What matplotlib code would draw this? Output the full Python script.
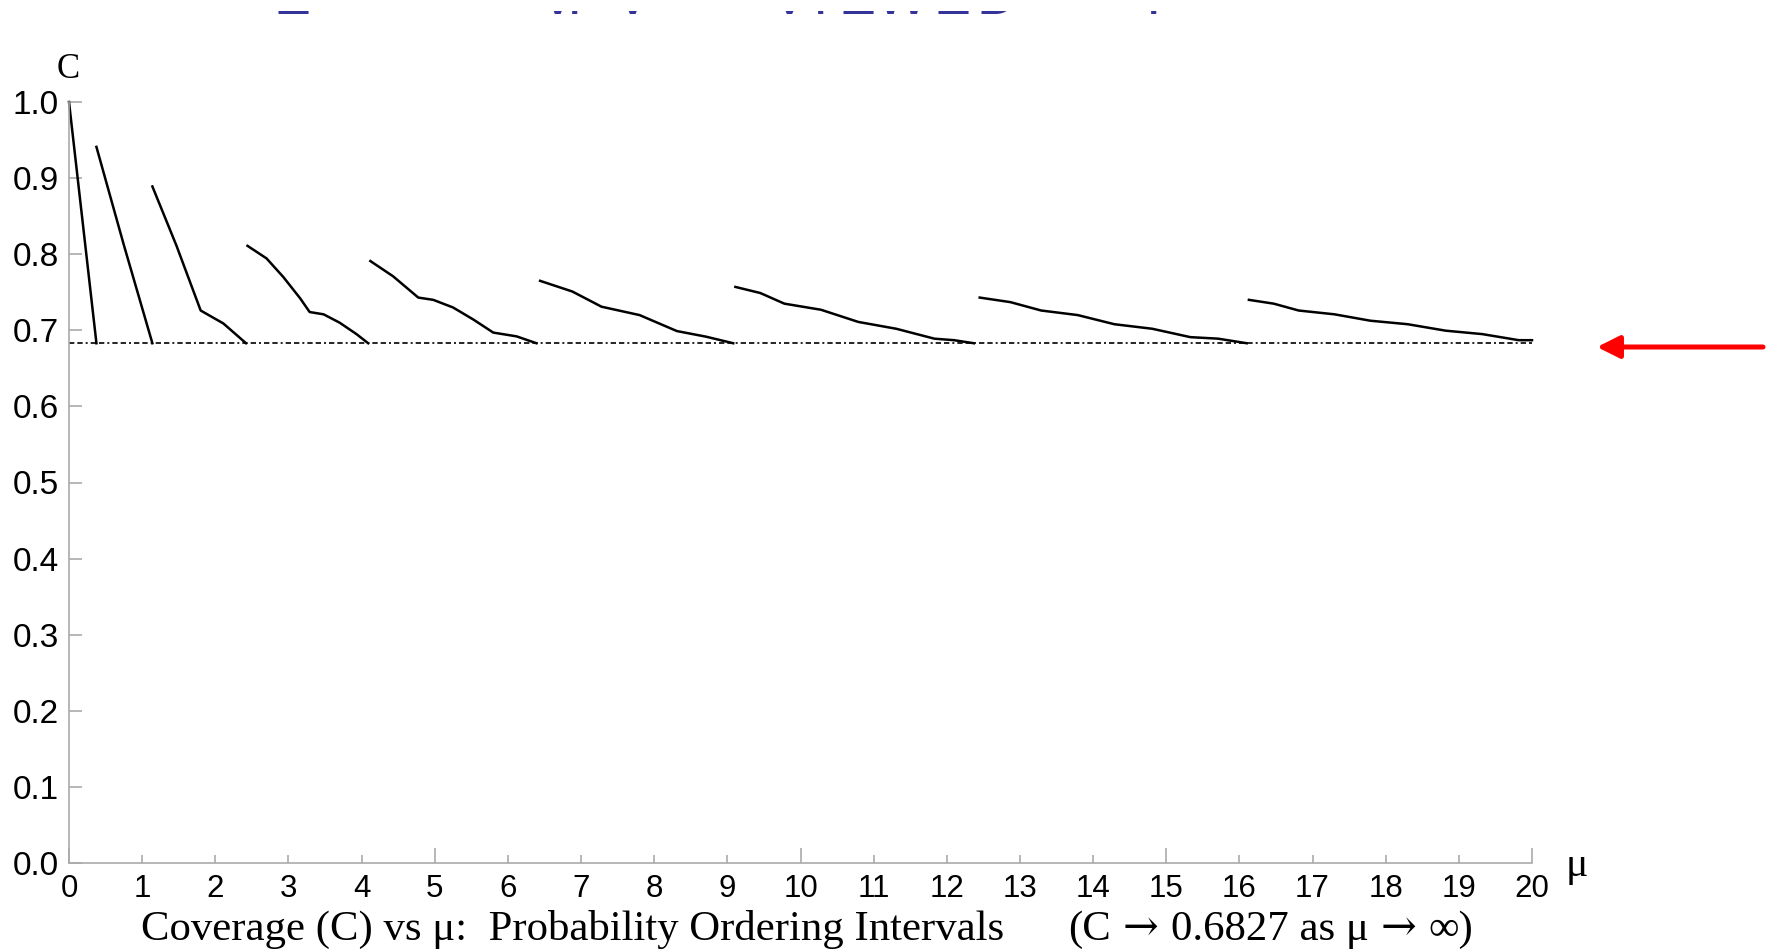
import numpy as np
import matplotlib.pyplot as plt

# coverage, one list per "tooth"
mu_pts = [
    [0.0, 0.375],
    [0.375, 0.75, 1.14],
    [1.14, 1.47, 1.80, 2.11, 2.42],
    [2.44, 2.70, 2.93, 3.16, 3.29, 3.48, 3.70, 3.93, 4.09],
    [4.12, 4.43, 4.775, 4.98, 5.25, 5.53, 5.80, 6.12, 6.39],
    [6.44, 6.88, 7.28, 7.80, 8.31, 8.71, 9.08],
    [9.11, 9.45, 9.78, 10.28, 10.79, 11.31, 11.83, 12.10, 12.37],
    [12.45, 12.87, 13.29, 13.79, 14.29, 14.81, 15.33, 15.71, 16.10],
    [16.13, 16.47, 16.81, 17.30, 17.79, 18.30, 18.82, 19.32, 19.82, 20.0],
]
cov_pts = [
    [1.0, 0.683],
    [0.941, 0.812, 0.683],
    [0.889, 0.811, 0.726, 0.709, 0.683],
    [0.811, 0.7945, 0.770, 0.742, 0.724, 0.721, 0.710, 0.695, 0.683],
    [0.791, 0.771, 0.743, 0.740, 0.730, 0.714, 0.697, 0.692, 0.683],
    [0.765, 0.751, 0.731, 0.720, 0.699, 0.6916, 0.683],
    [0.757, 0.749, 0.735, 0.727, 0.711, 0.702, 0.689, 0.687, 0.683],
    [0.743, 0.737, 0.726, 0.720, 0.708, 0.702, 0.691, 0.689, 0.683],
    [0.740, 0.735, 0.726, 0.721, 0.7126, 0.708, 0.6995, 0.695, 0.687, 0.687],
]
c_limit = 0.6827
mu_range = [0, 20]

x_ticks = list(range(0, 21))
y_ticks = [round(0.1 * i, 1) for i in range(11)]

# bits of the slide title that peek in at the top
title_bits = [("E", 292), ("v", 558), ("I", 575), ("v", 633),
              ("V", 789), ("I", 821), ("E", 857), ("W", 902), ("E", 952), ("D", 997), ("I", 1154)]

W, H = 1772, 949
fig = plt.figure(figsize=(W / 100, H / 100), dpi=100)
ax = fig.add_axes([69 / W, 86 / H, (1532 - 69) / W, 761 / H])

for m, c in zip(mu_pts, cov_pts):
    ax.plot(m, c, color="black", lw=1.8, clip_on=False, solid_joinstyle="round")

ax.plot(mu_range, [c_limit, c_limit], color="black", lw=1.2,
        dashes=[3.2, 1.8, 3.2, 1.8, 1.2, 1.8], clip_on=False)

ax.set_xlim(0, 20)
ax.set_ylim(0, 1)
for s in ["top", "right"]:
    ax.spines[s].set_visible(False)
for s in ["left", "bottom"]:
    ax.spines[s].set_color("#aaaaaa")
    ax.spines[s].set_linewidth(1.2)

sans = ["Liberation Sans", "DejaVu Sans"]
serif = ["Liberation Serif", "DejaVu Serif"]

ax.set_xticks([t for t in x_ticks if t % 5 == 0])
ax.set_xticks(x_ticks, minor=True)
ax.set_xticklabels([str(t) for t in x_ticks if t % 5 == 0])
ax.set_xticklabels([str(t) for t in x_ticks], minor=True)
ax.set_yticks(y_ticks)
ax.set_yticklabels([f"{t:.1f}" for t in y_ticks])

ax.tick_params(axis="x", which="major", direction="in", length=10.8, width=1.2,
               color="#aaaaaa", pad=8.0, labelsize=22.5)
ax.tick_params(axis="x", which="minor", direction="in", length=5.8, width=1.2,
               color="#aaaaaa", pad=8.0, labelsize=22.5)
ax.tick_params(axis="y", direction="in", length=9.4, width=1.2,
               color="#aaaaaa", pad=7.2, labelsize=24)
for lab in ax.get_xticklabels(which="both") + ax.get_yticklabels():
    lab.set_family(sans)

fig.text(68 / W, 1 - 78 / H, "C", ha="center", va="baseline", fontsize=25, family=serif)
fig.text(1566 / W, 1 - 876 / H, "μ", ha="left", va="baseline", fontsize=30, family=serif)

renderer = fig.canvas.get_renderer()


def text_row(x, y, pieces, size, gap):
    # lay pieces left to right on one baseline, x/y in pixels from top-left
    for s, fam in pieces:
        t = fig.text(x / W, 1 - y / H, s, ha="left", va="baseline",
                     fontsize=size, family=fam)
        x += t.get_window_extent(renderer).width + gap


fig.text(141 / W, 1 - 940 / H, "Coverage (C) vs μ:  Probability Ordering Intervals",
         ha="left", va="baseline", fontsize=30.8, family=serif)
text_row(1068, 940, [("(C", serif), ("→", ["DejaVu Serif"]), ("0.6827 as μ", serif),
                     ("→", ["DejaVu Serif"]), ("∞)", serif)], 30.8, 12)

# title strip: only the row just above its baseline shows
tax = fig.add_axes([0, 1 - 30 / H, 1, 19 / H])
tax.set_xlim(0, W)
tax.set_ylim(30, 11)
tax.set_xticks([])
tax.set_yticks([])
for s in tax.spines.values():
    s.set_visible(False)
tax.patch.set_alpha(0)
for ch, xc in title_bits:
    tax.text(xc, 14, ch, ha="center", va="baseline", fontsize=40,
             color="#333399", family=sans, clip_on=True)

ax.annotate("", xy=(1597, H - 347), xytext=(1763, H - 347),
            xycoords="figure pixels", textcoords="figure pixels",
            arrowprops=dict(arrowstyle="-|>", mutation_scale=34, lw=3.6,
                            color="red", shrinkA=0, shrinkB=0))

fig.savefig("out.png", dpi=100, facecolor="white")
